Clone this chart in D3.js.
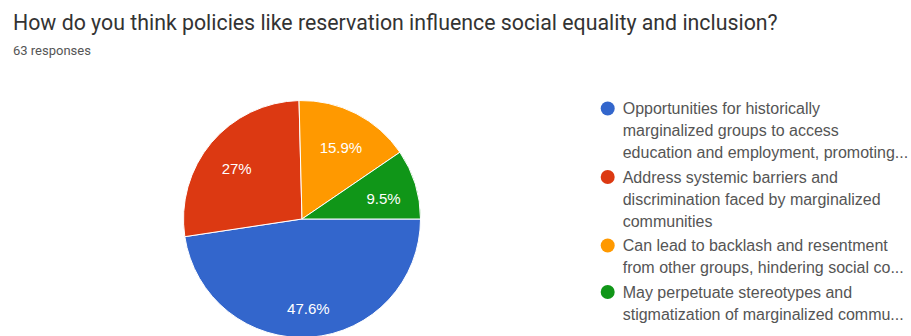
<!DOCTYPE html>
<html>
<head>
<meta charset="utf-8">
<script src="https://cdn.jsdelivr.net/npm/d3@7"></script>
<style>
  html, body { margin: 0; padding: 0; background: #fff; }
  svg { display: block; }
</style>
</head>
<body>
<svg id="chart" width="911" height="336"></svg>
<script>
// Survey question and response count
const title = "How do you think policies like reservation influence social equality and inclusion?";
const subtitle = "63 responses";

// Answer options (legend lines are split with \n) and response counts
const categories = [
  "Opportunities for historically\nmarginalized groups to access\neducation and employment, promoting...",
  "Address systemic barriers and\ndiscrimination faced by marginalized\ncommunities",
  "Can lead to backlash and resentment\nfrom other groups, hindering social co...",
  "May perpetuate stereotypes and\nstigmatization of marginalized commu..."
];
const counts = [30, 17, 10, 6];
const colors = ["#3366cc", "#dc3912", "#ff9900", "#109618"];

const svg = d3.select("#chart");
const total = d3.sum(counts);

// Title, fitted to its line width
const titleText = svg.append("text")
  .attr("x", 13).attr("y", 22)
  .attr("dominant-baseline", "central")
  .style("font-family", "Roboto, Arial, sans-serif")
  .style("font-size", "18px")
  .style("fill", "#333")
  .text(title);
const tw = titleText.node().getComputedTextLength();
titleText.style("font-size", (18 * 765 / tw).toFixed(2) + "px");

svg.append("text")
  .attr("x", 13).attr("y", 50)
  .attr("dominant-baseline", "central")
  .style("font-family", "Roboto, Arial, sans-serif")
  .style("font-size", "13px")
  .style("fill", "#555")
  .text(subtitle);

// Pie
const cx = 302, cy = 219, radius = 118.5;
const color = d3.scaleOrdinal().domain(categories).range(colors);
const pie = d3.pie().sort(null).value(d => d.count)
  .startAngle(Math.PI / 2).endAngle(Math.PI / 2 + 2 * Math.PI);
const data = categories.map((c, i) => ({ label: c, count: counts[i] }));
const arcs = pie(data);
const arc = d3.arc().innerRadius(0).outerRadius(radius);
const labelArc = d3.arc().innerRadius(radius * 0.72).outerRadius(radius * 0.72);

const g = svg.append("g").attr("transform", `translate(${cx},${cy})`);
g.selectAll("path.slice").data(arcs).join("path")
  .attr("class", "slice")
  .attr("d", arc)
  .attr("fill", d => color(d.data.label))
  .attr("stroke", "#fff")
  .attr("stroke-width", 1);

const fmt = v => {
  const p = Math.round(v * 1000) / 10;
  return (Number.isInteger(p) ? p.toFixed(0) : p.toFixed(1)) + "%";
};
g.selectAll("text.pct").data(arcs).join("text")
  .attr("class", "pct")
  .attr("transform", d => {
    const [x, y] = labelArc.centroid(d);
    return `translate(${x},${y + 4.5})`;
  })
  .attr("text-anchor", "middle")
  .attr("dominant-baseline", "central")
  .style("font-family", "Arial, 'Liberation Sans', sans-serif")
  .style("font-size", "15px")
  .style("fill", "#fff")
  .text(d => fmt(d.data.count / total));

// Legend
const legendX = 607.7, textX = 622.7, lineH = 22, itemGap = 24.5;
let y = 108.5;
const legend = svg.append("g");
categories.forEach((c, i) => {
  const lines = c.split("\n");
  legend.append("circle")
    .attr("cx", legendX).attr("cy", y)
    .attr("r", 7)
    .attr("fill", colors[i]);
  const t = legend.append("text")
    .style("font-family", "Arial, 'Liberation Sans', sans-serif")
    .style("font-size", "16px")
    .style("fill", "#555");
  lines.forEach((ln, j) => {
    t.append("tspan")
      .attr("x", textX)
      .attr("y", y + j * lineH)
      .attr("dominant-baseline", "central")
      .text(ln);
  });
  y += (lines.length - 1) * lineH + itemGap;
});
</script>
</body>
</html>
